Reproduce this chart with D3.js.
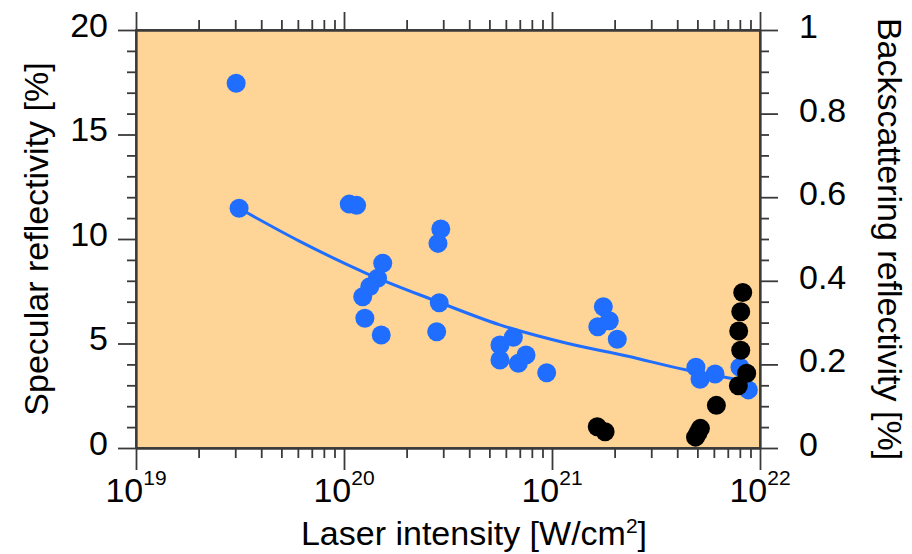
<!DOCTYPE html>
<html>
<head>
<meta charset="utf-8">
<script src="https://cdn.jsdelivr.net/npm/d3@7"></script>
<style>
  html, body { margin: 0; padding: 0; background: #fff; }
  svg { display: block; }
  text { font-family: "Liberation Sans", Arial, sans-serif; fill: #000; }
</style>
</head>
<body>
<svg id="chart" width="912" height="554"></svg>
<script>
// ---- data ----
const specularIntensity = [3.03e19, 3.13e19, 1.06e20, 1.15e20, 2.92e20, 2.83e20, 1.535e20, 1.45e20, 1.33e20, 1.23e20,
  2.87e20, 1.26e20, 1.51e20, 2.79e20, 5.62e20, 6.52e20, 5.62e20, 6.89e20, 7.5e20, 9.43e20,
  1.765e21, 1.886e21, 1.66e21, 2.06e21, 4.92e21, 5.15e21, 6.08e21, 8.01e21, 8.79e21];
const specularReflectivity = [17.45, 11.47, 11.67, 11.61, 10.48, 9.79, 8.84, 8.12, 7.72, 7.24,
  6.95, 6.21, 5.41, 5.56, 4.93, 5.30, 4.21, 4.05, 4.45, 3.60,
  6.76, 6.09, 5.80, 5.20, 3.86, 3.29, 3.54, 3.86, 2.78];

const backIntensity = [8.26e21, 8.08e21, 7.90e21, 8.08e21, 8.63e21, 7.87e21, 6.17e21, 5.17e21, 5.03e21, 4.90e21, 1.65e21, 1.80e21];
const backReflectivity = [0.372, 0.326, 0.280, 0.234, 0.179, 0.149, 0.102, 0.047, 0.036, 0.026, 0.051, 0.039];

const fitIntensity = [3.13e19, 6.1e19, 1.28e20, 2.69e20, 5.62e20, 1.18e21, 2.29e21, 4.44e21, 7.9e21];
const fitReflectivity = [11.47, 9.9, 8.36, 7.08, 5.89, 5.01, 4.40, 3.73, 3.27];

const xTickExponents = ["19", "20", "21", "22"];
const yLeftTicks = [0, 5, 10, 15, 20];
const yRightTicks = [0, 0.2, 0.4, 0.6, 0.8, 1];
const yRightTickLabels = ["0", "0.2", "0.4", "0.6", "0.8", "1"];

// ---- layout ----
const L = 136, R = 760, T = 30, B = 448;
const svg = d3.select("#chart");

const x = d3.scaleLog().domain([1e19, 1e22]).range([L, R]);
const yL = d3.scaleLinear().domain([0, 20]).range([B, T]);
const yR = d3.scaleLinear().domain([0, 1]).range([B, T]);

const axisColor = "#3a3a3a";
const fontSize = 34;

svg.append("rect").attr("x", L).attr("y", T).attr("width", R - L).attr("height", B - T)
  .attr("fill", "#FED596");

const xMajor = xTickExponents.map(e => Math.pow(10, +e));
const xMinor = [];
[1e19, 1e20, 1e21].forEach(d => { for (let k = 2; k <= 9; k++) xMinor.push(d * k); });
const yLMinor = d3.range(0, 21, 1).filter(v => v % 5 !== 0);
const yRMinor = d3.range(0, 21, 1).filter(v => v % 4 !== 0).map(v => v / 20);

function styleAxis(g) {
  g.selectAll("path.domain").attr("stroke", axisColor).attr("stroke-width", 1.8);
  g.selectAll(".tick line").attr("stroke", axisColor).attr("stroke-width", 1.8);
  g.selectAll(".tick text").remove();
}

const axes = svg.append("g");
// bottom
axes.append("g").attr("transform", `translate(0,${B})`)
  .call(d3.axisBottom(x).tickValues(xMajor).tickSize(22).tickSizeOuter(0).tickFormat("")).call(styleAxis);
axes.append("g").attr("transform", `translate(0,${B})`)
  .call(d3.axisBottom(x).tickValues(xMinor).tickSize(10).tickSizeOuter(0).tickFormat("")).call(styleAxis);
// top
axes.append("g").attr("transform", `translate(0,${T})`)
  .call(d3.axisTop(x).tickValues(xMajor).tickSize(18).tickSizeOuter(0).tickFormat("")).call(styleAxis);
axes.append("g").attr("transform", `translate(0,${T})`)
  .call(d3.axisTop(x).tickValues(xMinor).tickSize(10).tickSizeOuter(0).tickFormat("")).call(styleAxis);
// left
axes.append("g").attr("transform", `translate(${L},0)`)
  .call(d3.axisLeft(yL).tickValues(yLeftTicks).tickSize(18).tickSizeOuter(0).tickFormat("")).call(styleAxis);
axes.append("g").attr("transform", `translate(${L},0)`)
  .call(d3.axisLeft(yL).tickValues(yLMinor).tickSize(9).tickSizeOuter(0).tickFormat("")).call(styleAxis);
// right
axes.append("g").attr("transform", `translate(${R},0)`)
  .call(d3.axisRight(yR).tickValues(yRightTicks).tickSize(18).tickSizeOuter(0).tickFormat("")).call(styleAxis);
axes.append("g").attr("transform", `translate(${R},0)`)
  .call(d3.axisRight(yR).tickValues(yRMinor).tickSize(9).tickSizeOuter(0).tickFormat("")).call(styleAxis);

// ---- tick labels ----
const xl = svg.append("g").attr("font-size", fontSize);
xTickExponents.forEach(e => {
  const t = xl.append("text").attr("x", x(Math.pow(10, +e))).attr("y", 502).attr("text-anchor", "middle");
  t.append("tspan").text("10");
  t.append("tspan").attr("font-size", 21).attr("dy", -17).text(e);
});
svg.append("g").attr("font-size", fontSize).selectAll("text").data(yLeftTicks).join("text")
  .attr("x", 108).attr("y", d => yL(d) - 5).attr("dy", "0.35em").attr("text-anchor", "end")
  .text(d => d);
svg.append("g").attr("font-size", fontSize).selectAll("text").data(yRightTicks).join("text")
  .attr("x", 799).attr("y", d => yR(d) - 4).attr("dy", "0.35em").attr("text-anchor", "start")
  .text((d, i) => yRightTickLabels[i]);

// ---- axis titles ----
const xt = svg.append("text").attr("x", 474).attr("y", 545).attr("text-anchor", "middle").attr("font-size", fontSize);
xt.append("tspan").text("Laser intensity [W/cm");
xt.append("tspan").attr("font-size", 21).attr("dy", -12).text("2");
xt.append("tspan").attr("dy", 12).text("]");

svg.append("text").attr("transform", `translate(48,239) rotate(-90)`).attr("text-anchor", "middle")
  .attr("font-size", fontSize).text("Specular reflectivity [%]");
svg.append("text").attr("transform", `translate(878,239) rotate(90)`).attr("text-anchor", "middle")
  .attr("font-size", fontSize).text("Backscattering reflectivity [%]");

// ---- marks ----
const blue = "#1F6EFF";
const plot = svg.append("g");
plot.selectAll("circle.spec").data(specularIntensity).join("circle").attr("class", "spec")
  .attr("cx", d => x(d)).attr("cy", (d, i) => yL(specularReflectivity[i])).attr("r", 9.5).attr("fill", blue);

plot.append("path")
  .datum(fitIntensity.map((d, i) => [d, fitReflectivity[i]]))
  .attr("d", d3.line().x(d => x(d[0])).y(d => yL(d[1])).curve(d3.curveMonotoneX))
  .attr("fill", "none").attr("stroke", blue).attr("stroke-width", 3);

plot.selectAll("circle.back").data(backIntensity).join("circle").attr("class", "back")
  .attr("cx", d => x(d)).attr("cy", (d, i) => yR(backReflectivity[i])).attr("r", 9.5).attr("fill", "#000");

// frame lines on top
svg.append("rect").attr("x", L).attr("y", T).attr("width", R - L).attr("height", B - T)
  .attr("fill", "none").attr("stroke", axisColor).attr("stroke-width", 1.8);
</script>
</body>
</html>
